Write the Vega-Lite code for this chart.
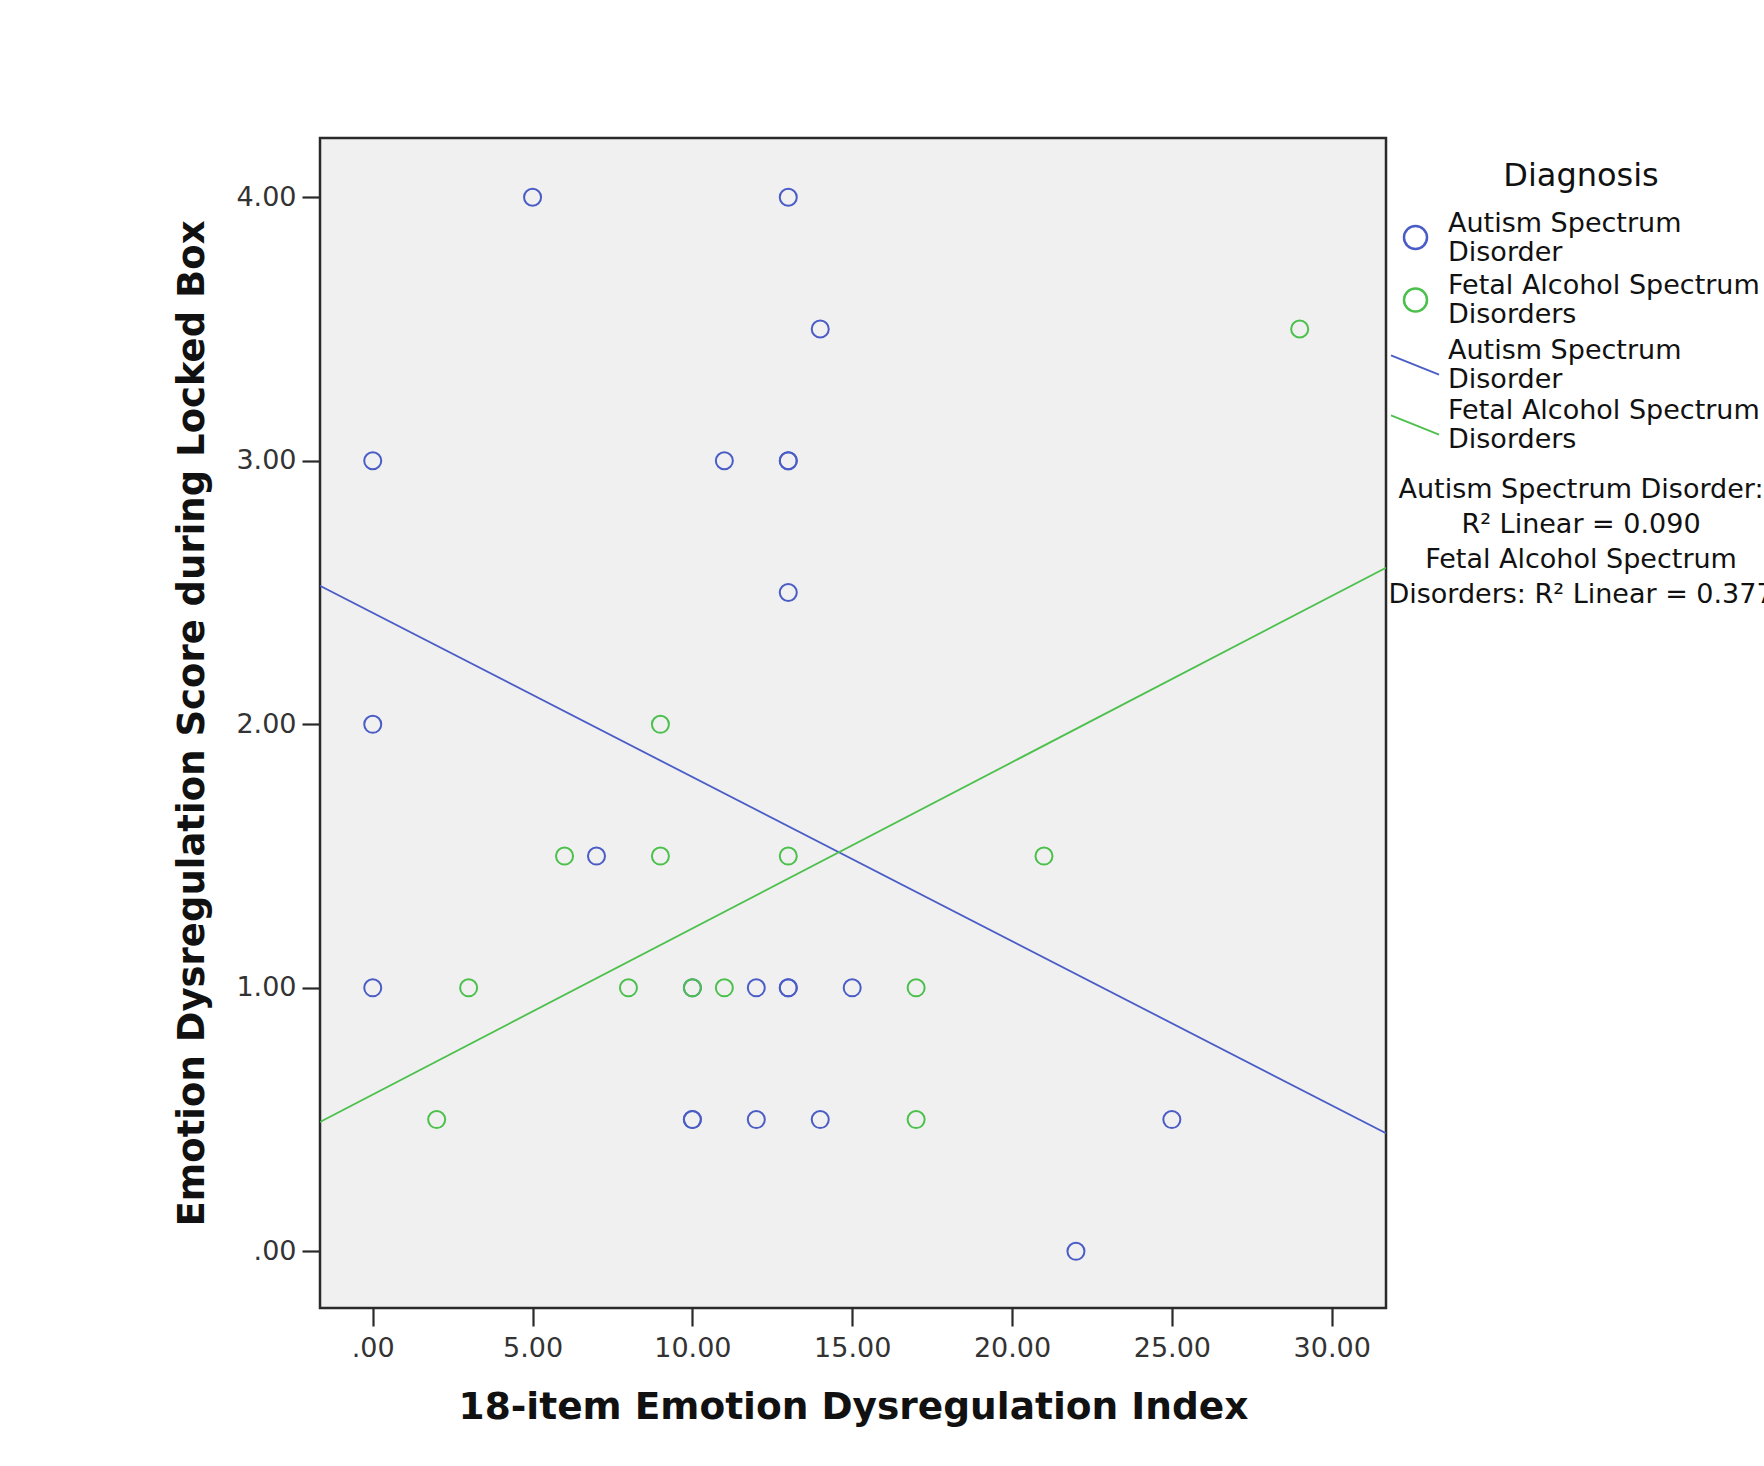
{
  "$schema": "https://vega.github.io/schema/vega-lite/v6.json",
  "width": 1066,
  "height": 1170,
  "autosize": {"type": "none"},
  "padding": {"left": 320, "top": 138, "right": 378, "bottom": 158},
  "background": "white",
  "config": {
    "font": "DejaVu Sans",
    "view": {"fill": "#f0f0f0", "stroke": "#2a2a2a", "strokeWidth": 2.5},
    "axis": {
      "grid": false,
      "domain": false,
      "tickColor": "#2a2a2a",
      "tickWidth": 2.2,
      "tickSize": 18,
      "labelFont": "DejaVu Sans",
      "labelFontSize": 27,
      "labelColor": "#333333",
      "titleFont": "DejaVu Sans",
      "titleFontSize": 37.5,
      "titleFontWeight": "bold",
      "titleColor": "#111111"
    }
  },
  "title": {
    "text": ["Autism Spectrum Disorder:", "R² Linear = 0.090", "Fetal Alcohol Spectrum", "Disorders: R² Linear = 0.377"],
    "orient": "top",
    "anchor": "end",
    "frame": "group",
    "align": "center",
    "baseline": "top",
    "offset": 0,
    "dx": 195,
    "dy": 471,
    "font": "DejaVu Sans",
    "fontSize": 27,
    "fontWeight": "normal",
    "color": "#111111",
    "lineHeight": 35
  },
  "datasets": {
    "points": [
      {"Diagnosis": "Autism Spectrum Disorder", "EDI": 5, "Score": 4},
      {"Diagnosis": "Autism Spectrum Disorder", "EDI": 13, "Score": 4},
      {"Diagnosis": "Autism Spectrum Disorder", "EDI": 14, "Score": 3.5},
      {"Diagnosis": "Autism Spectrum Disorder", "EDI": 0, "Score": 3},
      {"Diagnosis": "Autism Spectrum Disorder", "EDI": 11, "Score": 3},
      {"Diagnosis": "Autism Spectrum Disorder", "EDI": 13, "Score": 3},
      {"Diagnosis": "Autism Spectrum Disorder", "EDI": 13, "Score": 3},
      {"Diagnosis": "Autism Spectrum Disorder", "EDI": 13, "Score": 2.5},
      {"Diagnosis": "Autism Spectrum Disorder", "EDI": 0, "Score": 2},
      {"Diagnosis": "Autism Spectrum Disorder", "EDI": 7, "Score": 1.5},
      {"Diagnosis": "Autism Spectrum Disorder", "EDI": 0, "Score": 1},
      {"Diagnosis": "Autism Spectrum Disorder", "EDI": 10, "Score": 1},
      {"Diagnosis": "Autism Spectrum Disorder", "EDI": 12, "Score": 1},
      {"Diagnosis": "Autism Spectrum Disorder", "EDI": 13, "Score": 1},
      {"Diagnosis": "Autism Spectrum Disorder", "EDI": 13, "Score": 1},
      {"Diagnosis": "Autism Spectrum Disorder", "EDI": 15, "Score": 1},
      {"Diagnosis": "Autism Spectrum Disorder", "EDI": 10, "Score": 0.5},
      {"Diagnosis": "Autism Spectrum Disorder", "EDI": 10, "Score": 0.5},
      {"Diagnosis": "Autism Spectrum Disorder", "EDI": 12, "Score": 0.5},
      {"Diagnosis": "Autism Spectrum Disorder", "EDI": 14, "Score": 0.5},
      {"Diagnosis": "Autism Spectrum Disorder", "EDI": 25, "Score": 0.5},
      {"Diagnosis": "Autism Spectrum Disorder", "EDI": 22, "Score": 0},
      {"Diagnosis": "Fetal Alcohol Spectrum Disorders", "EDI": 29, "Score": 3.5},
      {"Diagnosis": "Fetal Alcohol Spectrum Disorders", "EDI": 9, "Score": 2},
      {"Diagnosis": "Fetal Alcohol Spectrum Disorders", "EDI": 6, "Score": 1.5},
      {"Diagnosis": "Fetal Alcohol Spectrum Disorders", "EDI": 9, "Score": 1.5},
      {"Diagnosis": "Fetal Alcohol Spectrum Disorders", "EDI": 13, "Score": 1.5},
      {"Diagnosis": "Fetal Alcohol Spectrum Disorders", "EDI": 21, "Score": 1.5},
      {"Diagnosis": "Fetal Alcohol Spectrum Disorders", "EDI": 3, "Score": 1},
      {"Diagnosis": "Fetal Alcohol Spectrum Disorders", "EDI": 8, "Score": 1},
      {"Diagnosis": "Fetal Alcohol Spectrum Disorders", "EDI": 10, "Score": 1},
      {"Diagnosis": "Fetal Alcohol Spectrum Disorders", "EDI": 11, "Score": 1},
      {"Diagnosis": "Fetal Alcohol Spectrum Disorders", "EDI": 17, "Score": 1},
      {"Diagnosis": "Fetal Alcohol Spectrum Disorders", "EDI": 2, "Score": 0.5},
      {"Diagnosis": "Fetal Alcohol Spectrum Disorders", "EDI": 17, "Score": 0.5}
    ],
    "fits": [
      {"Fit": "Autism Spectrum Disorder", "EDI": -1.65, "Score": 2.526},
      {"Fit": "Autism Spectrum Disorder", "EDI": 31.7, "Score": 0.448},
      {"Fit": "Fetal Alcohol Spectrum Disorders", "EDI": -1.65, "Score": 0.491},
      {"Fit": "Fetal Alcohol Spectrum Disorders", "EDI": 31.7, "Score": 2.594}
    ]
  },
  "layer": [
    {
      "data": {"name": "fits"},
      "mark": {"type": "line", "strokeWidth": 1.8, "clip": true},
      "encoding": {
        "x": {"field": "EDI", "type": "quantitative"},
        "y": {"field": "Score", "type": "quantitative"},
        "detail": {"field": "Fit", "type": "nominal"},
        "stroke": {
          "field": "Fit",
          "type": "nominal",
          "scale": {"range": ["#4a5cc6", "#4cc04c"]},
          "legend": {
            "title": null,
            "orient": "none",
            "legendX": 1070,
            "legendY": 202,
            "padding": 0,
            "symbolType": "M-1,-0.4L1,0.4",
            "symbolSize": 2304,
            "symbolStrokeWidth": 1.8,
            "labelOffset": 8,
            "labelFontSize": 27,
            "labelColor": "#111111",
            "labelLimit": 1000,
            "labelBaseline": "bottom",
            "lineHeight": 29,
            "rowPadding": 4,
            "labelExpr": "datum.label == 'Autism Spectrum Disorder' ? ['Autism Spectrum', 'Disorder'] : ['Fetal Alcohol Spectrum', 'Disorders']"
          }
        }
      }
    },
    {
      "data": {"name": "points"},
      "mark": {"type": "point", "shape": "circle", "filled": false, "size": 290, "strokeWidth": 2, "opacity": 1},
      "encoding": {
        "x": {
          "field": "EDI",
          "type": "quantitative",
          "title": "18-item Emotion Dysregulation Index",
          "scale": {"domain": [-1.65, 31.7], "nice": false, "zero": false},
          "axis": {"values": [0, 5, 10, 15, 20, 25, 30], "labelExpr": "datum.value == 0 ? '.00' : format(datum.value, '.2f')", "labelPadding": 9, "titlePadding": 27}
        },
        "y": {
          "field": "Score",
          "type": "quantitative",
          "title": "Emotion Dysregulation Score during Locked Box",
          "scale": {"domain": [-0.215, 4.225], "nice": false, "zero": false},
          "axis": {"values": [0, 1, 2, 3, 4], "labelExpr": "datum.value == 0 ? '.00' : format(datum.value, '.2f')", "labelPadding": 6, "titlePadding": 24, "titleFontSize": 37}
        },
        "color": {
          "field": "Diagnosis",
          "type": "nominal",
          "scale": {"domain": ["Autism Spectrum Disorder", "Fetal Alcohol Spectrum Disorders"], "range": ["#4a5cc6", "#4cc04c"]},
          "legend": {
            "title": "Diagnosis",
            "orient": "none",
            "legendX": 1082,
            "legendY": 23,
            "padding": 0,
            "titleFontSize": 32,
            "titleFontWeight": "normal",
            "titleColor": "#111111",
            "titleAnchor": "middle",
            "titlePadding": 31,
            "symbolType": "circle",
            "symbolSize": 530,
            "symbolStrokeWidth": 2.5,
            "labelOffset": 19,
            "labelFontSize": 27,
            "labelColor": "#111111",
            "labelLimit": 1000,
            "labelBaseline": "bottom",
            "lineHeight": 29,
            "rowPadding": 5.5,
            "labelExpr": "datum.label == 'Autism Spectrum Disorder' ? ['Autism Spectrum', 'Disorder'] : ['Fetal Alcohol Spectrum', 'Disorders']"
          }
        }
      }
    }
  ]
}
